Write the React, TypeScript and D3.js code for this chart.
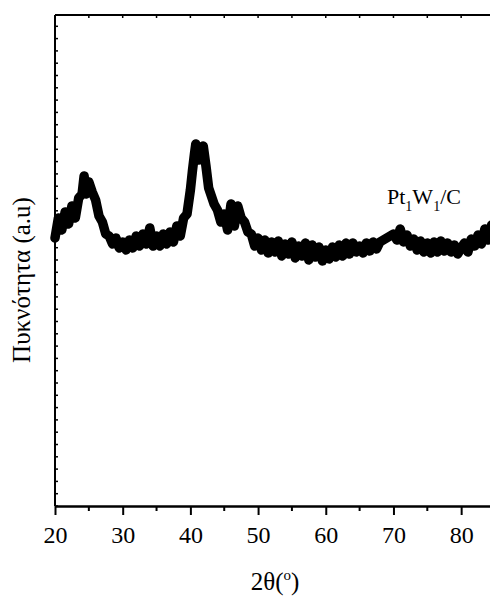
import { useEffect, useRef } from "react";
import * as d3 from "d3";

// 2θ positions (degrees)
const twoTheta = [
  20, 20.5, 21, 21.5, 22, 22.5, 23, 23.5, 24, 24.3, 24.6, 25, 25.5, 26, 26.5, 27, 27.5, 28, 28.5, 29, 29.5,
  30, 30.5, 31, 31.5, 32, 32.5, 33, 33.5, 34, 34.5, 35, 35.5, 36, 36.5, 37, 37.5, 38, 38.5, 39, 39.5,
  40, 40.3, 40.6, 40.8, 41.2, 41.5, 41.9, 42.3, 42.7, 43, 43.5, 44, 44.5, 45, 45.5, 46, 46.5, 47, 47.5,
  48, 48.5, 49, 49.5, 50, 50.5, 51, 51.5, 52, 52.5, 53, 53.5, 54, 54.5, 55, 55.5, 56, 56.5, 57, 57.5,
  58, 58.5, 59, 59.5, 60, 60.5, 61, 61.5, 62, 62.5, 63, 63.5, 64, 64.5, 65, 65.5, 66, 66.5, 67, 67.5,
  68, 68.5, 69, 69.5, 70, 70.5, 71, 71.5, 72, 72.5, 73, 73.5, 74, 74.5, 75, 75.5, 76, 76.5, 77, 77.5,
  78, 78.5, 79, 79.5, 80, 80.5, 81, 81.5, 82, 82.5, 83, 83.5, 84, 84.5, 85,
];

// intensity (arbitrary units)
const intensity = [
  268, 288, 276, 294, 282, 300, 288, 308, 312, 330, 312, 324, 314, 306, 290, 284, 272, 270, 262, 268, 258,
  264, 256, 266, 258, 270, 260, 272, 262, 278, 260, 270, 260, 272, 262, 274, 264, 280, 270, 288, 292,
  316, 335, 352, 362, 346, 354, 360, 340, 318, 312, 302, 296, 284, 292, 276, 302, 280, 300, 288,
  284, 274, 272, 260, 268, 256, 266, 253, 264, 254, 265, 250, 262, 252, 264, 248, 260, 250, 263, 246,
  261, 249, 259, 245, 256, 247, 259, 249, 261, 250, 263, 252, 263, 254, 260, 253, 263, 255, 264, 257,
  264, 266, 268, 270, 272, 266, 277, 264, 271, 260, 267, 256, 265, 254, 263, 253, 264, 254, 265, 255,
  263, 254, 261, 252, 258, 263, 254, 267, 260, 271, 262, 277, 266, 281, 270,
];

const xTicks = [20, 30, 40, 50, 60, 70, 80];
const xMinorTicks = [25, 35, 45, 55, 65, 75, 85];

export default function App() {
  const svgRef = useRef<SVGSVGElement>(null);

  useEffect(() => {
    if (!svgRef.current) return;
    const width = 490;
    const height = 596;
    const left = 55;
    const right = 495;
    const top = 15;
    const bottom = 506;
    const font = "Liberation Serif, DejaVu Serif, serif";

    const svg = d3.select(svgRef.current);
    svg.selectAll("*").remove();
    svg.attr("width", width).attr("height", height);

    const x = d3.scaleLinear().domain([20, 85]).range([left, right]);
    const y = d3.scaleLinear().domain([0, 491]).range([bottom, top]);

    // frame: top and left lines
    svg.append("line").attr("x1", left).attr("x2", right).attr("y1", top).attr("y2", top)
      .attr("stroke", "#000").attr("stroke-width", 2);
    svg.append("line").attr("x1", left).attr("x2", left).attr("y1", top).attr("y2", bottom)
      .attr("stroke", "#000").attr("stroke-width", 2);

    // left axis minor ticks (inward)
    const yTicks = d3.range(0, 492, 12.3);
    svg.selectAll("line.ytick").data(yTicks).enter().append("line")
      .attr("class", "ytick")
      .attr("x1", left).attr("x2", left + 3)
      .attr("y1", (d) => y(d)).attr("y2", (d) => y(d))
      .attr("stroke", "#000").attr("stroke-width", 1.5);

    // top axis ticks (inward)
    svg.selectAll("line.ttick").data([...xTicks, ...xMinorTicks]).enter().append("line")
      .attr("class", "ttick")
      .attr("x1", (d) => x(d)).attr("x2", (d) => x(d))
      .attr("y1", top).attr("y2", top + 3)
      .attr("stroke", "#000").attr("stroke-width", 1.5);

    // data line
    const pts = twoTheta.map((t, i) => [t, intensity[i]] as [number, number]);
    const line = d3.line<[number, number]>().x((d) => x(d[0])).y((d) => y(d[1]));
    svg.append("path")
      .attr("d", line(pts) as string)
      .attr("fill", "none")
      .attr("stroke", "#000")
      .attr("stroke-width", 9.5)
      .attr("stroke-linejoin", "round")
      .attr("stroke-linecap", "round");

    // bottom axis
    const xAxis = d3.axisBottom(x).tickValues(xTicks).tickSize(9).tickSizeOuter(0).tickPadding(11)
      .tickFormat((d) => String(d));
    const gx = svg.append("g").attr("transform", `translate(0,${bottom})`).call(xAxis);
    gx.attr("font-family", null).attr("font-size", null);
    gx.select(".domain").attr("stroke-width", 2.5);
    gx.selectAll(".tick line").attr("stroke-width", 2);
    gx.selectAll(".tick text").style("font-family", font).style("font-size", "24px").attr("fill", "#000");
    svg.selectAll("line.bminor").data(xMinorTicks).enter().append("line")
      .attr("class", "bminor")
      .attr("x1", (d) => x(d)).attr("x2", (d) => x(d))
      .attr("y1", bottom).attr("y2", bottom + 5)
      .attr("stroke", "#000").attr("stroke-width", 2);

    // x title
    const xt = svg.append("text").attr("x", 275).attr("y", 590).attr("text-anchor", "middle")
      .style("font-family", font).style("font-size", "25px").attr("fill", "#000");
    xt.append("tspan").text("2θ(");
    xt.append("tspan").attr("dy", -10).style("font-size", "15px").text("o");
    xt.append("tspan").attr("dy", 10).text(")");

    // y title
    svg.append("text")
      .attr("transform", "translate(30,280) rotate(-90)")
      .attr("text-anchor", "middle")
      .style("font-family", font).style("font-size", "25px").attr("fill", "#000")
      .text("Πυκνότητα (a.u)");

    // sample label
    const lab = svg.append("text").attr("x", 387).attr("y", 204)
      .style("font-family", font).style("font-size", "22px").attr("fill", "#000");
    lab.append("tspan").text("Pt");
    lab.append("tspan").attr("dy", 7).style("font-size", "14px").text("1");
    lab.append("tspan").attr("dy", -7).text("W");
    lab.append("tspan").attr("dy", 7).style("font-size", "14px").text("1");
    lab.append("tspan").attr("dy", -7).text("/C");
  }, []);

  return (
    <svg ref={svgRef} style={{ position: "absolute", left: 0, top: 0, background: "#fff" }} />
  );
}
